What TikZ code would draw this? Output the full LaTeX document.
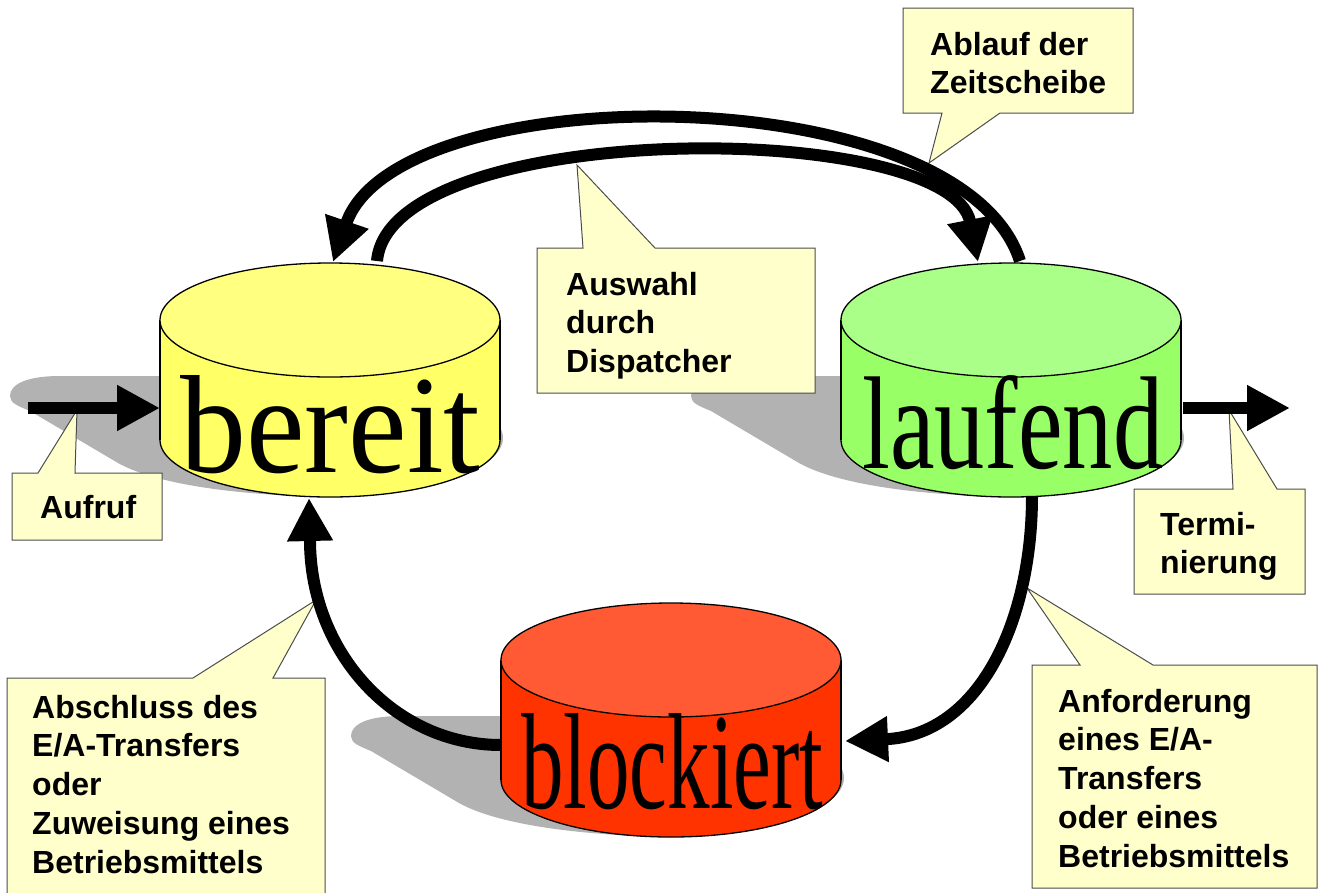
\documentclass[tikz,border=0pt]{standalone}
\usepackage{fontspec}
\usepackage{graphicx}
\setmainfont{Liberation Sans}
\newfontfamily\cylfont{Liberation Serif}
\usetikzlibrary{arrows.meta}
\definecolor{callfill}{HTML}{FFFFCC}
\definecolor{shadowgray}{HTML}{B2B2B2}
\definecolor{ytop}{HTML}{FFFF80}
\definecolor{yside}{HTML}{FFFF66}
\definecolor{gtop}{HTML}{AAFF88}
\definecolor{gside}{HTML}{99FF66}
\definecolor{rtop}{HTML}{FF5A33}
\definecolor{rside}{HTML}{FF3300}
% #1 centre x, #2 top y, #3 top colour, #4 side colour
\newcommand\drawcyl[4]{%
  \fill[shadowgray] (#1-160,#2+113) -- (#1-270,#2+113)
     .. controls (#1-305,#2+113) and (#1-320,#2+122) .. (#1-320,#2+133)
     .. controls (#1-320,#2+140) and (#1-312,#2+143) .. (#1-300,#2+148)
     -- (#1-212,#2+200)
     .. controls (#1-180,#2+218) and (#1-110,#2+232) .. (#1,#2+234)
     -- (#1,#2+113) -- cycle;
  \fill[shadowgray] (#1+3,#2+175) ellipse [x radius=170, y radius=57];
  \filldraw[fill=#4, cylline] (#1,#2+177) ellipse [x radius=170, y radius=57];
  \fill[#4] (#1-170,#2+57) rectangle (#1+170,#2+177);
  \draw[cylline] (#1-170,#2+57) -- (#1-170,#2+177) (#1+170,#2+57) -- (#1+170,#2+177);
  \filldraw[fill=#3, cylline] (#1,#2+57) ellipse [x radius=170, y radius=57];
}
\newcommand\calltab[1]{\begin{tabular}[t]{@{}l@{}}#1\end{tabular}}
\begin{document}
\begin{tikzpicture}[x=1pt,y=-1pt,
  cylline/.style={draw=black, line width=1.3pt},
  callout/.style={fill=callfill, draw=black!70, line width=1pt, line join=miter},
  calltext/.style={inner sep=0pt, anchor=base west, font=\fontsize{32}{38.8}\selectfont\bfseries},
  flow/.style={line width=12pt, -{Triangle[length=43pt,width=43pt]}},
  cyltext/.style={inner sep=0pt, anchor=base west}]
\useasboundingbox (0,0) rectangle (1327,892);

% cylinders with shadows
\drawcyl{330}{263}{ytop}{yside}
\drawcyl{1011}{263}{gtop}{gside}
\drawcyl{671}{603}{rtop}{rside}

\node[cyltext] (bereit) at (180,472) {\resizebox{300pt}{97pt}{\cylfont bereit}};
\node[cyltext] (laufend) at (862,468) {\resizebox{301pt}{93pt}{\cylfont laufend}};
\node[cyltext] (blockiert) at (521,808) {\resizebox{302pt}{95pt}{\cylfont blockiert}};

% callouts
\coordinate (tipAufruf) at (77,410);
\draw[callout] (12,473) -- (38,473) -- (tipAufruf) -- (75,473) -- (162,473) -- (162,540) -- (12,540) -- cycle;
\node[calltext] (tAufruf) at (40,518) {\calltab{Aufruf}};

\coordinate (tipAuswahl) at (577,165);
\draw[callout] (537,248) -- (583,248) -- (tipAuswahl) -- (655,248) -- (815,248) -- (815,393) -- (537,393) -- cycle;
\node[calltext] (tAuswahl) at (566,295) {\calltab{Auswahl\\durch\\Dispatcher}};

\coordinate (tipAblauf) at (929,163);
\draw[callout] (903,8) -- (1133,8) -- (1133,113) -- (1000,113) -- (tipAblauf) -- (942,113) -- (903,113) -- cycle;
\node[calltext] (tAblauf) at (930,55) {\calltab{Ablauf der\\Zeitscheibe}};

\coordinate (tipTerm) at (1229,410);
\draw[callout] (1134,489) -- (1233,489) -- (tipTerm) -- (1277,489) -- (1305,489) -- (1305,594) -- (1134,594) -- cycle;
\node[calltext] (tTerm) at (1160,535) {\calltab{Termi-\\nierung}};

\coordinate (tipAnf) at (1027,588);
\draw[callout] (1032,665) -- (1080,665) -- (tipAnf) -- (1153,665) -- (1317,665) -- (1317,888) -- (1032,888) -- cycle;
\node[calltext] (tAnf) at (1058,712) {\calltab{Anforderung\\eines E/A-\\Transfers\\oder eines\\Betriebsmittels}};

\coordinate (tipAbs) at (316,600);
\draw[callout] (7,678) -- (193,678) -- (tipAbs) -- (273,678) -- (325,678) -- (325,896) -- (7,896) -- cycle;
\node[calltext] (tAbs) at (32,718) {\calltab{Abschluss des\\E/A-Transfers\\oder\\Zuweisung eines\\Betriebsmittels}};

% connectors
\coordinate (aufStart) at (28,408);
\coordinate (bereitW) at (160,408);
\draw[flow] (aufStart) -- (bereitW);

\coordinate (laufendE) at (1183,408);
\coordinate (termEnd) at (1290,408);
\draw[flow] (laufendE) -- (termEnd);

\coordinate (laufTopR) at (1020,261);
\coordinate (berTopL) at (333,262);
\draw[flow] (laufTopR) .. controls (960,75) and (397,75) .. (berTopL);

\coordinate (berTopR) at (377,261);
\coordinate (laufTopL) at (978,262);
\draw[flow] (berTopR) .. controls (390,118) and (950,118) .. (laufTopL);

\coordinate (laufBot) at (1032,496);
\coordinate (blkE) at (845,741);
\draw[flow] (laufBot) .. controls (1032,620) and (980,735) .. (blkE);

\coordinate (blkW) at (501,745);
\coordinate (berBot) at (309,498);
\draw[flow] (blkW) .. controls (395,745) and (310,653) .. (310,540) -- (berBot);
\end{tikzpicture}
\end{document}
